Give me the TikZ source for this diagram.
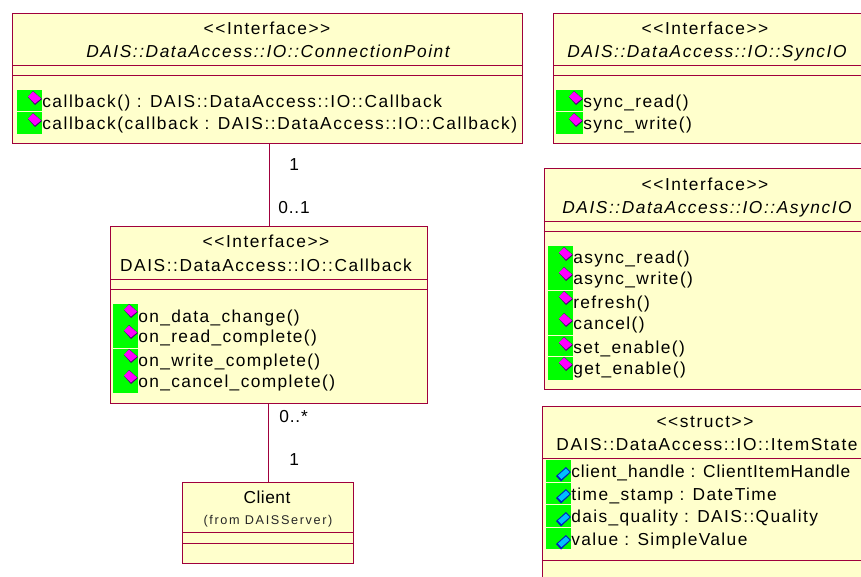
\documentclass[tikz,border=0pt]{standalone}
\usepackage{fontspec}
\setmainfont[LetterSpace=9]{Liberation Sans}
\definecolor{umlfill}{RGB}{255,255,204}
\definecolor{umlline}{RGB}{160,0,60}
\definecolor{icongreen}{RGB}{0,255,0}
\definecolor{iconmag}{RGB}{255,0,255}
\definecolor{iconmagd}{RGB}{70,0,110}
\definecolor{iconblue}{RGB}{0,190,255}
\definecolor{iconblued}{RGB}{0,30,190}
\tikzset{
  umlbox/.style={draw=umlline,fill=umlfill,line width=0.8pt,inner sep=0pt,anchor=north west},
  divider/.style={draw=umlline,line width=0.75pt},
  assoc/.style={draw=umlline,line width=0.75pt},
  rowtext/.style={inner sep=0pt,anchor=base west,font=\fontsize{13}{15}\selectfont\addfontfeature{LetterSpace=8},text=black},
  longrow/.style={inner sep=0pt,anchor=base west,font=\fontsize{13}{15}\selectfont,text=black},
  tightrow/.style={inner sep=0pt,anchor=base west,font=\fontsize{13}{15}\selectfont\addfontfeature{LetterSpace=5.5},text=black},
  headtext/.style={inner sep=0pt,anchor=base,font=\fontsize{13}{15}\selectfont,text=black},
  headital/.style={headtext,font=\fontsize{13}{15}\selectfont\itshape},
  plainname/.style={inner sep=0pt,anchor=base,font=\fontsize{13}{15}\selectfont\addfontfeature{LetterSpace=3},text=black},
  fromtext/.style={inner sep=0pt,anchor=base,font=\fontsize{9.5}{11}\selectfont\addfontfeature{LetterSpace=13},text=black!85},
  multtext/.style={inner sep=0pt,anchor=base west,font=\fontsize{13}{15}\selectfont\addfontfeature{LetterSpace=5},text=black},
}
\newcommand{\umlrect}[5]{\node[umlbox,minimum width=(#4-#2)*0.75pt,minimum height=(#5-#3)*0.75pt] (#1) at (#2,#3) {};}
\newcommand{\dividerat}[3]{\draw[divider] (#1,#3) -- (#2,#3);}
\newcommand{\greenbar}[3]{\fill[icongreen] (#1,#2) rectangle (#1+\barw,#3);}
\newcommand{\opicon}[2]{%
  \fill[iconmagd] (#1-14,#2+6) -- (#1-9,#2) -- (#1,#2+8) -- (#1-7,#2+14) -- cycle;
  \fill[iconmag] (#1-14,#2+5.5) -- (#1-9,#2+0.5) -- (#1-1,#2+7.5) -- (#1-7,#2+12.5) -- cycle;}
\newcommand{\attricon}[2]{%
  \fill[iconblued] (#1-15,#2+9) -- (#1-5,#2) -- (#1,#2+5) -- (#1-10,#2+14.5) -- cycle;
  \fill[iconblue] (#1-13,#2+8.5) -- (#1-5,#2+1.5) -- (#1-1.5,#2+5) -- (#1-9.5,#2+12) -- cycle;}
\newcommand{\barw}{25}
\begin{document}
\begin{tikzpicture}[x=0.75pt,y=-0.75pt]
\useasboundingbox (0,0) rectangle (861,576);
\clip (0,0) rectangle (861,576);
\umlrect{conn}{12}{13}{522}{143}
\umlrect{cb}{110}{226}{427}{403}
\umlrect{client}{182}{482}{353}{563}
\umlrect{sync}{553}{13}{880}{143}
\umlrect{async}{543.5}{168}{880}{389}
\umlrect{state}{541.5}{406}{880}{600}
\draw[assoc] (cb.north |- conn.south) -- (cb.north);
\draw[assoc] (client.north) -- (client.north |- cb.south);
% dividers
\dividerat{12}{522}{65}\dividerat{12}{522}{75}
\dividerat{553}{861}{65}\dividerat{553}{861}{75}
\dividerat{543.5}{861}{221}\dividerat{543.5}{861}{231}
\dividerat{110}{427}{279}\dividerat{110}{427}{289}
\dividerat{182}{353}{532}\dividerat{182}{353}{543}
\dividerat{541.5}{861}{458}\dividerat{541.5}{861}{560}
% headers
\node[headtext] (connst) at (267,34) {<{}<Interface>{}>};
\node[headital] (connnm) at (268,57) {DAIS::DataAccess::IO::ConnectionPoint};
\node[headtext] (syncst) at (705,34) {<{}<Interface>{}>};
\node[headital] (syncnm) at (707,57) {DAIS::DataAccess::IO::SyncIO};
\node[headtext] (asyncst) at (705,190) {<{}<Interface>{}>};
\node[headital] (asyncnm) at (707,213) {DAIS::DataAccess::IO::AsyncIO};
\node[headtext] (cbst) at (266,247) {<{}<Interface>{}>};
\node[headtext] (cbnm) at (266,271) {DAIS::DataAccess::IO::Callback};
\node[headtext] (statest) at (705,427) {<{}<struct>{}>};
\node[headtext] (statenm) at (707,450) {DAIS::DataAccess::IO::ItemState};
\node[plainname] (clientnm) at (267,503) {Client};
\node[fromtext] (clientfr) at (268,524) {(from DAISServer)};
% green bars
\greenbar{17}{90}{111}\greenbar{17}{112}{134}
\renewcommand{\barw}{27}
\greenbar{556}{90}{111}\greenbar{556}{112}{134}
\renewcommand{\barw}{25}
\greenbar{548}{246}{290}\greenbar{548}{291}{335}\greenbar{548}{336}{356}\greenbar{548}{357}{380}
\greenbar{113}{304}{348}\greenbar{113}{349}{393}
\greenbar{546}{460}{482}\greenbar{546}{483}{504}\greenbar{546}{505}{527}\greenbar{546}{528}{549}
% operation icons
\opicon{42}{91}\opicon{42}{113}
\opicon{583}{91}\opicon{583}{113}
\opicon{573}{247}\opicon{573}{267}\opicon{573}{291}\opicon{573}{313}\opicon{573}{337}\opicon{573}{357}
\opicon{138}{304}\opicon{138}{325}\opicon{138}{349}\opicon{138}{370}
% attribute icons
\attricon{571}{467}\attricon{571}{489}\attricon{571}{512}\attricon{571}{535}
% rows
\node[longrow] (c1) at (42,107) {callback() : DAIS::DataAccess::IO::Callback};
\node[longrow] (c2) at (42,129) {callback(callback : DAIS::DataAccess::IO::Callback)};
\node[rowtext] (s1) at (583,107) {sync\_read()};
\node[rowtext] (s2) at (583,129) {sync\_write()};
\node[rowtext] (a1) at (573,263) {async\_read()};
\node[rowtext] (a2) at (573,284) {async\_write()};
\node[rowtext] (a3) at (573,308) {refresh()};
\node[rowtext] (a4) at (573,329) {cancel()};
\node[rowtext] (a5) at (573,353) {set\_enable()};
\node[rowtext] (a6) at (573,374) {get\_enable()};
\node[rowtext] (b1) at (138,322) {on\_data\_change()};
\node[rowtext] (b2) at (138,342) {on\_read\_complete()};
\node[rowtext] (b3) at (138,366) {on\_write\_complete()};
\node[rowtext] (b4) at (138,387) {on\_cancel\_complete()};
\node[tightrow] (i1) at (571,477) {client\_handle : ClientItemHandle};
\node[rowtext] (i2) at (571,500) {time\_stamp : DateTime};
\node[rowtext] (i3) at (571,522) {dais\_quality : DAIS::Quality};
\node[rowtext] (i4) at (571,545) {value : SimpleValue};
% multiplicities
\node[multtext] (m1) at (289,170) {1};
\node[multtext] (m2) at (278,213) {0..1};
\node[multtext] (m3) at (279,422) {0..*};
\node[multtext] (m4) at (289,465) {1};
\end{tikzpicture}
\end{document}
